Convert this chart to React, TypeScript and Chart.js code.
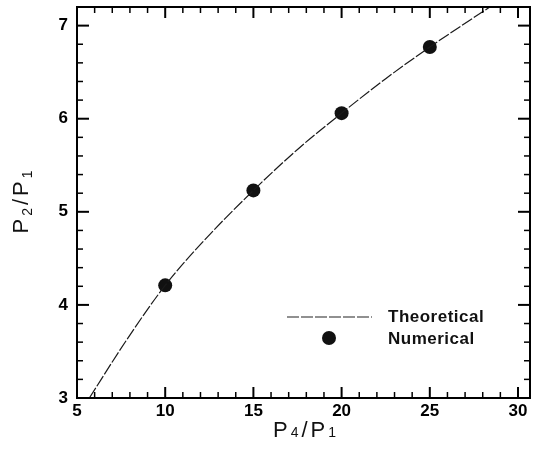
import React, { useEffect, useRef } from 'react';
import { Chart, registerables } from 'chart.js';

Chart.register(...registerables);

// ---- data ----
const theoryX = [5.7, 7.8, 10, 12, 15, 17.5, 20, 22.5, 25, 28.4];
const theoryY = [3.0, 3.62, 4.21, 4.65, 5.23, 5.67, 6.06, 6.43, 6.77, 7.2];
const numericalX = [10, 15, 20, 25];
const numericalY = [4.21, 5.23, 6.06, 6.77];
const xTickLabels = [5, 10, 15, 20, 25, 30];
const yTickLabels = [3, 4, 5, 6, 7];
const legendLabels = ['Theoretical', 'Numerical'];
const xMinorStep = 1;
const yMinorStep = 0.2;
const xRange = [5, 30.68];
const yRange = [3, 7.2];

const FONT = '"Liberation Sans", Arial, Helvetica, sans-serif';

type Part = [string, number, number];
const xTitleParts: Part[] = [['P', 22, 0], ['4', 14, 0], ['/', 22, 0], ['P', 22, 0], ['1', 14, 0]];
const yTitleParts: Part[] = [['P', 22, 0], ['2', 14, 4], ['/', 22, 0], ['P', 22, 0], ['1', 14, 4]];

function drawParts(ctx: CanvasRenderingContext2D, parts: Part[], cx: number, baseY: number, spacing: number) {
  let total = 0;
  const widths: number[] = [];
  for (const [t, s] of parts) {
    ctx.font = `${s}px ${FONT}`;
    const w = ctx.measureText(t).width;
    widths.push(w);
    total += w;
  }
  total += spacing * (parts.length - 1);
  let x = cx - total / 2;
  ctx.textBaseline = 'alphabetic';
  ctx.textAlign = 'left';
  parts.forEach(([t, s, dy], i) => {
    ctx.font = `${s}px ${FONT}`;
    ctx.fillText(t, x, baseY + dy);
    x += widths[i] + spacing;
  });
}

const decorPlugin = {
  id: 'decor',
  afterDraw(chart: any) {
    const { ctx, chartArea, scales } = chart;
    const { left, right, top, bottom } = chartArea;
    const xs = scales.x;
    const ys = scales.y;
    ctx.save();
    ctx.strokeStyle = '#000';
    ctx.fillStyle = '#000';
    const seg = (x1: number, y1: number, x2: number, y2: number) => {
      ctx.beginPath();
      ctx.moveTo(x1, y1);
      ctx.lineTo(x2, y2);
      ctx.stroke();
    };
    // x ticks (inward, bottom and top)
    const nX = Math.round((xTickLabels[xTickLabels.length - 1] - xTickLabels[0]) / xMinorStep);
    for (let i = 0; i <= nX; i++) {
      const v = xTickLabels[0] + i * xMinorStep;
      const major = xTickLabels.some((t) => Math.abs(t - v) < 1e-6);
      const px = xs.getPixelForValue(v);
      const len = major ? 11 : 6;
      ctx.lineWidth = major ? 2 : 1.5;
      seg(px, bottom, px, bottom - len);
      seg(px, top, px, top + len);
    }
    // y ticks (inward, left and right)
    const nY = Math.floor((yRange[1] - yRange[0]) / yMinorStep + 1e-6);
    for (let i = 0; i <= nY; i++) {
      const v = yRange[0] + i * yMinorStep;
      if (v > yRange[1] - 1e-6) continue;
      const major = yTickLabels.some((t) => Math.abs(t - v) < 1e-6);
      const py = ys.getPixelForValue(v);
      const len = major ? 12 : 6;
      ctx.lineWidth = major ? 2 : 1.5;
      seg(left, py, left + len, py);
      seg(right, py, right - len, py);
    }
    // frame
    ctx.lineWidth = 2;
    ctx.strokeRect(left, top, right - left, bottom - top);

    // axis titles
    ctx.fillStyle = '#111';
    drawParts(ctx, xTitleParts, (left + right) / 2 + 1, 437, 3);
    ctx.save();
    ctx.translate(28, 202);
    ctx.rotate(-Math.PI / 2);
    drawParts(ctx, yTitleParts, 0, 0, 3);
    ctx.restore();

    // legend
    ctx.strokeStyle = '#222';
    ctx.lineWidth = 1.2;
    ctx.setLineDash([12, 2]);
    seg(287, 317, 372, 317);
    ctx.setLineDash([]);
    ctx.fillStyle = '#111';
    ctx.beginPath();
    ctx.arc(329, 338, 7, 0, Math.PI * 2);
    ctx.fill();
    ctx.font = `bold 17px ${FONT}`;
    (ctx as any).letterSpacing = '0.5px';
    ctx.textAlign = 'left';
    ctx.textBaseline = 'alphabetic';
    ctx.fillText(legendLabels[0], 388, 322);
    ctx.fillText(legendLabels[1], 388, 344);
    (ctx as any).letterSpacing = '0px';
    ctx.restore();
  },
};

export default function App() {
  const ref = useRef<HTMLCanvasElement | null>(null);
  useEffect(() => {
    if (!ref.current) return;
    const chart = new Chart(ref.current, {
      type: 'scatter',
      data: {
        datasets: [
          {
            label: legendLabels[0],
            type: 'line',
            data: theoryX.map((x, i) => ({ x, y: theoryY[i] })),
            borderColor: '#1a1a1a',
            borderWidth: 1.2,
            borderDash: [12, 2],
            pointRadius: 0,
            tension: 0.4,
            cubicInterpolationMode: 'monotone',
            fill: false,
          } as any,
          {
            label: legendLabels[1],
            data: numericalX.map((x, i) => ({ x, y: numericalY[i] })),
            backgroundColor: '#111',
            borderColor: '#111',
            borderWidth: 0,
            pointRadius: 7,
          },
        ],
      },
      options: {
        responsive: false,
        animation: false,
        devicePixelRatio: 1,
        layout: { padding: { left: 0, top: 6, right: 6, bottom: 0 } },
        plugins: { legend: { display: false }, tooltip: { enabled: false } },
        scales: {
          x: {
            type: 'linear',
            min: xRange[0],
            max: xRange[1],
            grid: { display: false, drawTicks: false },
            border: { display: false },
            afterBuildTicks: (s: any) => {
              s.ticks = xTickLabels.map((v) => ({ value: v }));
            },
            afterFit: (s: any) => {
              s.height = 57;
              s.paddingLeft = 0;
              s.paddingRight = 0;
            },
            ticks: {
              padding: 3,
              color: '#000',
              maxRotation: 0,
              font: { family: FONT, size: 17, weight: 'bold' },
            },
          },
          y: {
            type: 'linear',
            min: yRange[0],
            max: yRange[1],
            grid: { display: false, drawTicks: false },
            border: { display: false },
            afterBuildTicks: (s: any) => {
              s.ticks = yTickLabels.map((v) => ({ value: v }));
            },
            afterFit: (s: any) => {
              s.width = 77;
              s.paddingTop = 0;
              s.paddingBottom = 0;
            },
            ticks: {
              padding: 9,
              color: '#000',
              font: { family: FONT, size: 17, weight: 'bold' },
            },
          },
        },
      } as any,
      plugins: [decorPlugin],
    });
    return () => chart.destroy();
  }, []);
  return (
    <div style={{ position: 'fixed', left: 0, top: 0, width: 537, height: 455, background: '#fff' }}>
      <canvas ref={ref} width={537} height={455} style={{ display: 'block' }} />
    </div>
  );
}
